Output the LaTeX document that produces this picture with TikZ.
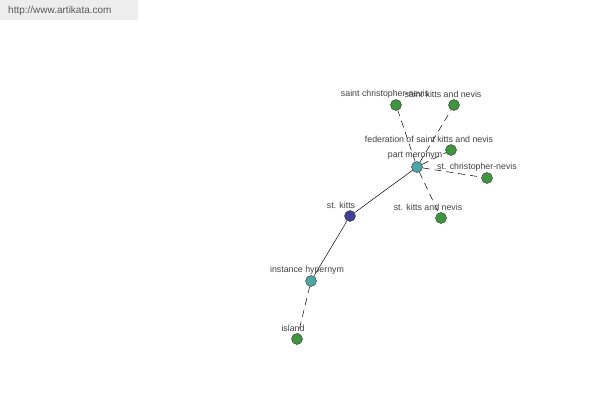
\documentclass[tikz,border=0pt]{standalone}
\usepackage{fontspec}
\setmainfont{Liberation Sans}
\begin{document}
\begin{tikzpicture}[x=1pt,y=-1pt,
  dot/.style={circle,draw=black!80,line width=0.4pt,minimum size=11pt,inner sep=0pt},
  leaf/.style={dot,fill=green!45!black!75!white},
  rel/.style={dot,fill=teal!70!white},
  hub/.style={dot,fill=blue!45!black!75!white},
  lbl/.style={font=\fontsize{8.8}{9}\selectfont,text=black!75,inner sep=0pt},
  solidedge/.style={draw=black,line width=0.5pt},
  dashedge/.style={draw=black,line width=0.5pt,dash pattern=on 7pt off 5pt}]
\useasboundingbox (0,0) rectangle (600,400);
\fill[black!7] (0,0) rectangle (138,20);
\node[lbl,anchor=west,text=black!65,font=\fontsize{10}{11}\selectfont] (wm) at (8,11) {http://www.artikata.com};
% nodes
\node[hub] (stk) at (350,216) {};
\node[rel] (pm) at (417,167) {};
\node[rel] (ih) at (311,281) {};
\node[leaf] (isl) at (297,339) {};
\node[leaf] (scn) at (396,105) {};
\node[leaf] (skn) at (454,105) {};
\node[leaf] (fed) at (451,150) {};
\node[leaf] (stcn) at (487,178) {};
\node[leaf] (stkn) at (441,218) {};
% edges
\draw[solidedge] (stk) -- (pm);
\draw[solidedge] (stk) -- (ih);
\draw[dashedge] (ih) -- (isl);
\draw[dashedge] (pm) -- (scn);
\draw[dashedge] (pm) -- (skn);
\draw[dashedge] (pm) -- (fed);
\draw[dashedge] (pm) -- (stcn);
\draw[dashedge] (pm) -- (stkn);
% labels
\node[lbl] (lstk) at (341,205) {st. kitts};
\node[lbl] (lpm) at (415,156) {part meronym};
\node[lbl] (lih) at (307,270) {instance hypernym};
\node[lbl] (lisl) at (293,328) {island};
\node[lbl] (lscn) at (385,94) {saint christopher-nevis};
\node[lbl] (lskn) at (443,94) {saint kitts and nevis};
\node[lbl] (lfed) at (429,139) {federation of saint kitts and nevis};
\node[lbl] (lstcn) at (477,167) {st. christopher-nevis};
\node[lbl] (lstkn) at (428,207) {st. kitts and nevis};
\end{tikzpicture}
\end{document}
